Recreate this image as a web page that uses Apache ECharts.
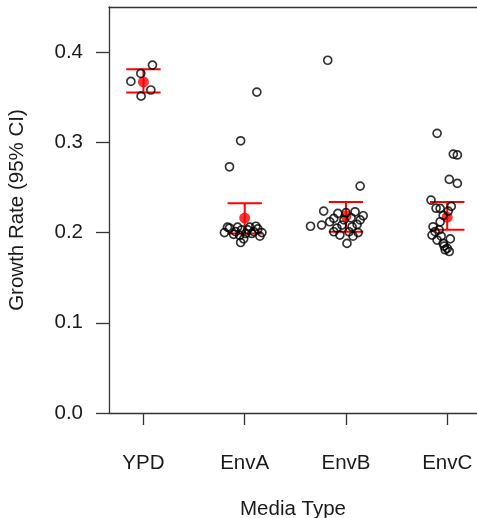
<!DOCTYPE html>
<html><head><meta charset="utf-8">
<script src="https://cdn.jsdelivr.net/npm/echarts@6/dist/echarts.min.js"></script>
<style>html,body{margin:0;padding:0;background:#fff}#c{width:477px;height:518px}</style>
</head><body><div id="c"></div>
<script>
const categories = ['YPD', 'EnvA', 'EnvB', 'EnvC'];
const yTicks = [0, 0.1, 0.2, 0.3, 0.4];

// 95% CI per media type
const ciLower = [0.3553, 0.1990, 0.2009, 0.2032];
const ciMean  = [0.3670, 0.2160, 0.2186, 0.2170];
const ciUpper = [0.3810, 0.2324, 0.2340, 0.2338];

// individual growth rates (jitter = horizontal offset from category)
const ypdJitter = [0.089, -0.026, -0.124, 0.073, -0.023];
const ypdGrowth = [0.3856, 0.3764, 0.3675, 0.3580, 0.3512];

const envAJitter = [0.12, -0.04, -0.15, -0.20, -0.15, -0.11, -0.07, -0.03, 0.01, 0.05, 0.09, 0.13, 0.17, -0.17, -0.09, -0.05, 0.03, 0.07, 0.11, -0.04, 0.15, -0.01];
const envAGrowth = [0.3557, 0.3017, 0.2729, 0.200, 0.205, 0.198, 0.206, 0.203, 0.199, 0.206, 0.201, 0.204, 0.200, 0.206, 0.201, 0.197, 0.203, 0.199, 0.207, 0.189, 0.196, 0.193];

const envBJitter = [-0.18, 0.14, -0.22, -0.12, -0.08, -0.24, 0.17, 0.11, 0.05, -0.12, -0.06, 0.03, 0.01, -0.04, 0.06, 0.12, -0.35, 0.00, 0.09, -0.16, 0.14, -0.02, 0.07, -0.09];
const envBGrowth = [0.391, 0.2515, 0.2238, 0.2157, 0.2212, 0.2083, 0.2186, 0.209, 0.2164, 0.2009, 0.1972, 0.2009, 0.188, 0.2083, 0.2064, 0.200, 0.207, 0.222, 0.223, 0.212, 0.214, 0.214, 0.196, 0.205];

const envCJitter = [-0.10, 0.06, 0.10, 0.02, 0.10, -0.16, -0.07, 0.01, -0.04, -0.07, -0.14, -0.15, -0.10, -0.04, 0.00, 0.02, -0.02, -0.12, -0.06, 0.04, -0.11, -0.03, 0.03, -0.08];
const envCGrowth = [0.310, 0.287, 0.286, 0.259, 0.2545, 0.236, 0.2268, 0.2238, 0.219, 0.212, 0.2064, 0.1972, 0.1917, 0.188, 0.1825, 0.179, 0.181, 0.201, 0.196, 0.229, 0.227, 0.185, 0.193, 0.203];

const groups = [[ypdJitter, ypdGrowth], [envAJitter, envAGrowth], [envBJitter, envBGrowth], [envCJitter, envCGrowth]];
const points = [];
groups.forEach((g, i) => g[1].forEach((v, k) => points.push([i + 1 + g[0][k], v])));
const ciData = categories.map((c, i) => [i + 1, ciLower[i], ciUpper[i]]);
const meanData = categories.map((c, i) => [i + 1, ciMean[i]]);

const font = 'Liberation Sans, Arial, Helvetica, sans-serif';
const txt = '#1a1a1a';
const axCol = '#333';
const fs = 20.5;
const chart = echarts.init(document.getElementById('c'), null, {renderer: 'canvas'});
chart.setOption({
  animation: false,
  backgroundColor: '#fff',
  grid: {left: 109, right: 0, top: 7, bottom: 105, containLabel: false, outerBoundsMode: 'none'},
  xAxis: [{
    type: 'value', min: 0.66, max: 4.294, position: 'bottom',
    splitLine: {show: false},
    axisLine: {show: true, onZero: false, lineStyle: {color: axCol, width: 1.3}},
    axisTick: {show: true, length: 12, customValues: [1, 2, 3, 4], lineStyle: {color: axCol, width: 1.3}},
    axisLabel: {customValues: [1, 2, 3, 4], formatter: v => categories[Math.round(v) - 1], margin: 40,
      fontSize: fs, color: txt, fontFamily: font},
    name: 'Media Type', nameLocation: 'middle', nameGap: 86,
    nameTextStyle: {fontSize: fs, color: txt, fontFamily: font}
  }, {
    type: 'value', min: 0.66, max: 4.294, position: 'top',
    splitLine: {show: false}, axisTick: {show: false}, axisLabel: {show: false},
    axisLine: {show: true, onZero: false, lineStyle: {color: axCol, width: 1.3}}
  }],
  yAxis: {
    type: 'value', min: 0, max: 0.45,
    splitLine: {show: false},
    axisLine: {show: true, onZero: false, lineStyle: {color: axCol, width: 1.3}},
    axisTick: {show: true, length: 13, customValues: yTicks, lineStyle: {color: axCol, width: 1.3}},
    axisLabel: {customValues: yTicks, formatter: v => v.toFixed(1), margin: 26,
      fontSize: fs, color: txt, fontFamily: font},
    name: 'Growth Rate (95% CI)', nameLocation: 'middle', nameGap: 81, nameRotate: 90,
    nameTextStyle: {fontSize: fs, color: txt, fontFamily: font}
  },
  series: [{
    type: 'custom',
    data: ciData,
    z: 2,
    renderItem: (params, api) => {
      const x = api.value(0);
      const lo = api.coord([x, api.value(1)]);
      const hi = api.coord([x, api.value(2)]);
      const hw = api.size([0.17, 0])[0];
      const st = {stroke: '#ff0000', lineWidth: 2};
      return {type: 'group', children: [
        {type: 'line', shape: {x1: lo[0], y1: lo[1], x2: hi[0], y2: hi[1]}, style: st},
        {type: 'line', shape: {x1: lo[0] - hw, y1: lo[1], x2: lo[0] + hw, y2: lo[1]}, style: st},
        {type: 'line', shape: {x1: hi[0] - hw, y1: hi[1], x2: hi[0] + hw, y2: hi[1]}, style: st}
      ]};
    }
  }, {
    type: 'scatter', data: meanData, symbol: 'circle', symbolSize: 11, z: 3,
    itemStyle: {color: '#ff0000'}
  }, {
    type: 'scatter', data: points, symbol: 'circle', symbolSize: 8, z: 4,
    itemStyle: {color: 'rgba(0,0,0,0)', borderColor: '#000', borderWidth: 1.7}
  }]
});
</script></body></html>
